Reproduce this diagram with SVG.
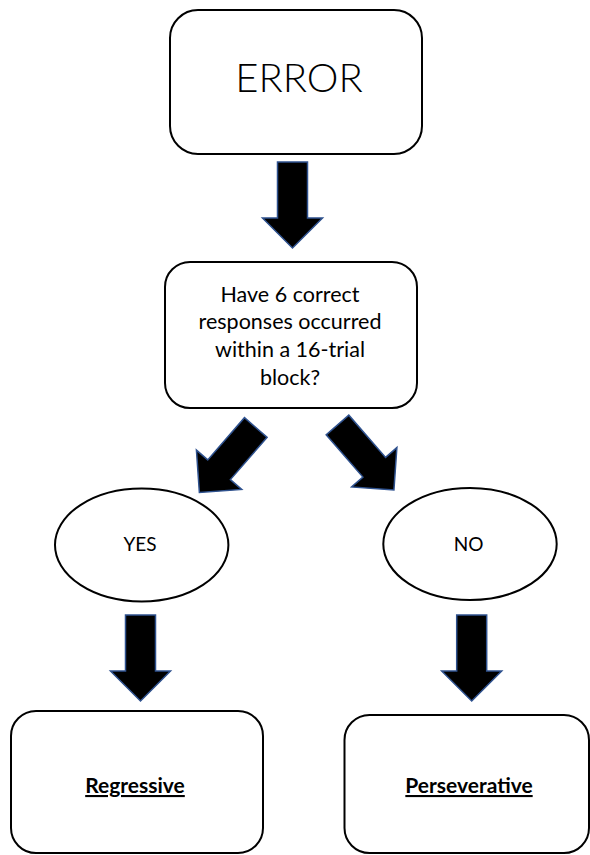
<svg xmlns="http://www.w3.org/2000/svg" xmlns:xlink="http://www.w3.org/1999/xlink" width="590" height="855" viewBox="0 0 590 855">
<style>
.box{fill:#fff;stroke:#000;stroke-width:2}
.arrow{fill:#000;stroke:#2F528F;stroke-width:1.5;stroke-linejoin:miter}
.t{font-family:Lato,"Open Sans","Liberation Sans",sans-serif;fill:#000;text-anchor:middle}
.big{font-size:40px;font-weight:300}
.q{font-size:21.5px}
.lbl{font-size:19px}
.res{font-size:21px;font-weight:bold;text-decoration:underline}
</style>
<defs>
<path id="darrow" d="M-15,0 H15 V56 H30 L0,86 L-30,56 H-15 Z"/>
</defs>
<rect width="590" height="855" fill="#fff"/>
<g id="connectors">
<use xlink:href="#darrow" class="arrow" transform="translate(292.5,162)"/>
<use xlink:href="#darrow" class="arrow" transform="translate(255.8,427.5) rotate(41)"/>
<use xlink:href="#darrow" class="arrow" transform="translate(337.5,425) rotate(-41)"/>
<use xlink:href="#darrow" class="arrow" transform="translate(140.5,615)"/>
<use xlink:href="#darrow" class="arrow" transform="translate(471.7,615)"/>
</g>
<g id="error">
<rect class="box" x="170" y="10" width="252" height="144" rx="28"/>
<text class="t big" x="299" y="92">ERROR</text>
</g>
<g id="question">
<rect class="box" x="165" y="262" width="252" height="146" rx="25"/>
<text class="t q" x="290" y="302">Have 6 correct</text>
<text class="t q" x="290" y="329">responses occurred</text>
<text class="t q" x="290" y="357">within a 16-trial</text>
<text class="t q" x="290" y="385">block?</text>
</g>
<g id="yes">
<ellipse class="box" cx="141.7" cy="545" rx="86.7" ry="56.5"/>
<text class="t lbl" x="140" y="551">YES</text>
</g>
<g id="no">
<ellipse class="box" cx="470" cy="544" rx="86.7" ry="56"/>
<text class="t lbl" x="468.5" y="551">NO</text>
</g>
<g id="regressive">
<rect class="box" x="11" y="711" width="252" height="142" rx="25"/>
<text class="t res" x="135" y="793">Regressive</text>
</g>
<g id="perseverative">
<rect class="box" x="344.5" y="715" width="244.5" height="138" rx="25"/>
<text class="t res" x="469" y="793">Perseverative</text>
</g>
</svg>
